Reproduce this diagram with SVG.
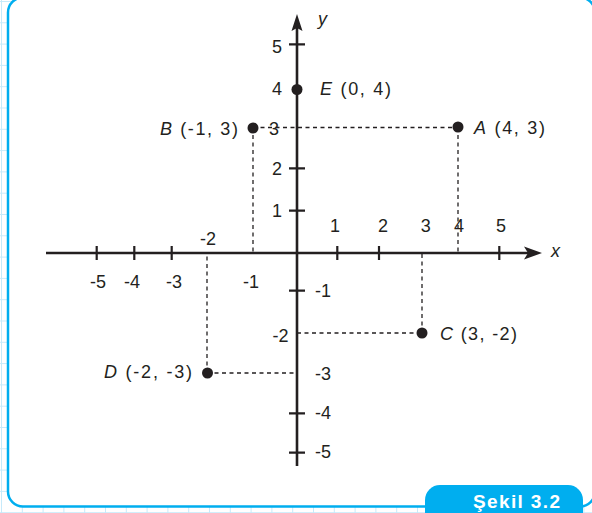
<svg xmlns="http://www.w3.org/2000/svg" width="592" height="513" viewBox="0 0 592 513">
<style>
.axis{stroke:#231f20;stroke-width:2.6;fill:none}
.tick{stroke:#231f20;stroke-width:2.2}
.guide{stroke:#231f20;stroke-width:1.3;stroke-dasharray:4 3.5;fill:none}
.lbl{font-family:"Liberation Sans",Arial,sans-serif;font-size:18px;fill:#231f20}
.it{font-style:italic}
.dot{fill:#231f20}
.head{fill:#231f20}
</style>
<defs>
<pattern id="grid" patternUnits="userSpaceOnUse" x="1" y="1" width="20.8" height="21.3">
<path d="M0.5 0V21.3M0 0.5H20.8" stroke="#c6eafa" stroke-width="1" fill="none"/>
</pattern>
</defs>
<g id="background">
<rect x="0" y="0" width="592" height="513" fill="#ffffff"/>
<rect x="0" y="0" width="592" height="513" fill="url(#grid)"/>
</g>
<g id="panel">
<rect x="8" y="-2.5" width="587" height="509" rx="15" fill="#ffffff" stroke="#00aeef" stroke-width="2.5"/>
</g>
<g id="connectors">
<path class="guide" d="M253 127.5H458M458 127.5V253M253 127.5V253M297 333H422M422 333V253M207 373H297M207 373V253"/>
</g>
<g id="axes">
<line class="axis" x1="46" y1="253" x2="530" y2="253"/>
<polygon class="head" points="542,253 524,246.5 528,253 524,259.5"/>
<line class="axis" x1="297" y1="466" x2="297" y2="26"/>
<polygon class="head" points="297,14 291.5,31 297,28 302.5,31"/>
<g id="ticks">
<path class="tick" d="M96.7 246V260M134.3 246V260M171.7 246V260M337.3 246V260M379 246V260M499.3 246V260M289 44.3H305M289 168.3H305M289 210.7H305M289 290.7H305M289 413.3H305M289 452.7H305"/>
</g>
<text class="lbl it" x="318" y="25" font-size="19">y</text>
<text class="lbl it" x="551" y="257" font-size="19">x</text>
</g>
<g id="y-labels" class="lbl">
<text class="lbl" x="282" y="53" text-anchor="end">5</text>
<text class="lbl" x="282" y="94.5" text-anchor="end">4</text>
<text class="lbl" x="279" y="134.5" text-anchor="end">3</text>
<text class="lbl" x="282" y="175" text-anchor="end">2</text>
<text class="lbl" x="282" y="217" text-anchor="end">1</text>
<text class="lbl" x="315" y="297" >-1</text>
<text class="lbl" x="288.5" y="341.5" text-anchor="end">-2</text>
<text class="lbl" x="315" y="379.5">-3</text>
<text class="lbl" x="315" y="419">-4</text>
<text class="lbl" x="315" y="457.5">-5</text>
</g>
<g id="x-labels">
<text class="lbl" x="98" y="288" text-anchor="middle">-5</text>
<text class="lbl" x="132" y="288" text-anchor="middle">-4</text>
<text class="lbl" x="174" y="288" text-anchor="middle">-3</text>
<text class="lbl" x="208" y="245" text-anchor="middle">-2</text>
<text class="lbl" x="251" y="288" text-anchor="middle">-1</text>
<text class="lbl" x="335" y="232" text-anchor="middle">1</text>
<text class="lbl" x="383" y="232" text-anchor="middle">2</text>
<text class="lbl" x="425.7" y="232" text-anchor="middle">3</text>
<text class="lbl" x="459" y="232" text-anchor="middle">4</text>
<text class="lbl" x="501" y="232" text-anchor="middle">5</text>
</g>
<g id="point-E">
<circle class="dot" cx="297" cy="89.5" r="5.5"/>
<text class="lbl" x="320" y="94.5" textLength="71" lengthAdjust="spacing"><tspan class="it">E</tspan> (0, 4)</text>
</g>
<g id="point-B">
<circle class="dot" cx="253" cy="128" r="5.5"/>
<text class="lbl" x="160" y="134.5" textLength="78" lengthAdjust="spacing"><tspan class="it">B</tspan> (-1, 3)</text>
</g>
<g id="point-A">
<circle class="dot" cx="458" cy="127" r="5.5"/>
<text class="lbl" x="474" y="133.5" textLength="71" lengthAdjust="spacing"><tspan class="it">A</tspan> (4, 3)</text>
</g>
<g id="point-C">
<circle class="dot" cx="422" cy="333" r="5.5"/>
<text class="lbl" x="440" y="340" textLength="77" lengthAdjust="spacing"><tspan class="it">C</tspan> (3, -2)</text>
</g>
<g id="point-D">
<circle class="dot" cx="207.5" cy="373" r="5.5"/>
<text class="lbl" x="104" y="378" textLength="88" lengthAdjust="spacing"><tspan class="it">D</tspan> (-2, -3)</text>
</g>
<g id="caption">
<rect x="425" y="485" width="158" height="50" rx="15" fill="#00aeef"/>
<text x="473" y="507.5" font-family="'Liberation Sans',Arial,sans-serif" font-size="19" font-weight="bold" fill="#ffffff" textLength="87" lengthAdjust="spacing">Şekil 3.2</text>
</g>
</svg>
